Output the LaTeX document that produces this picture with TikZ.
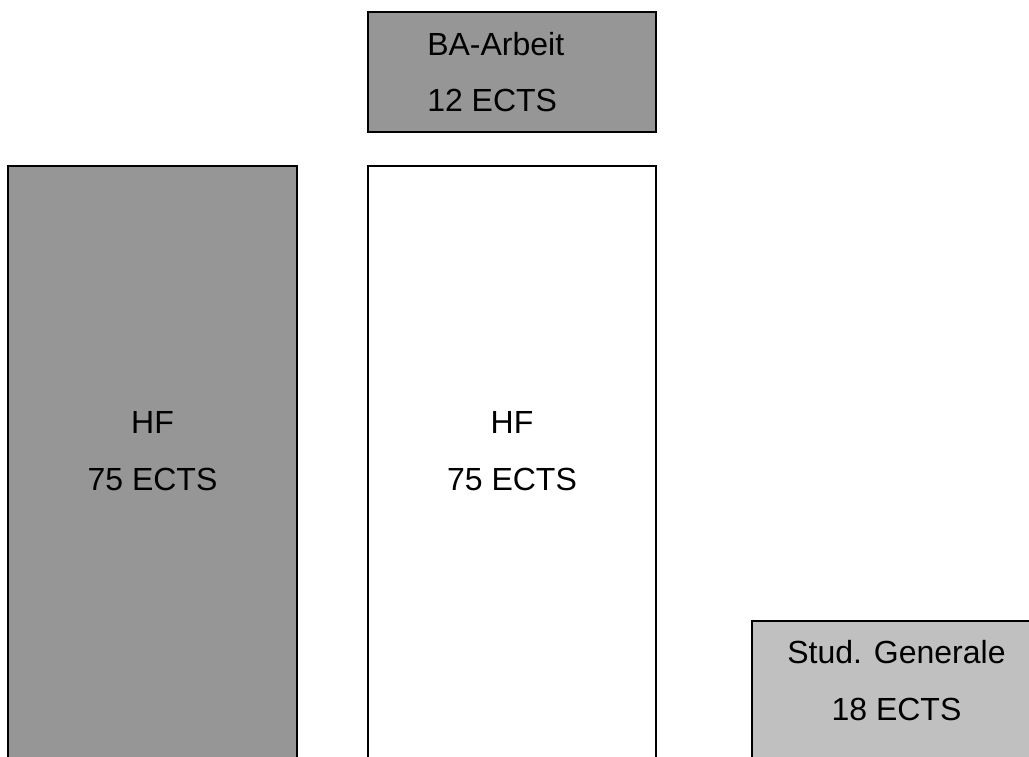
\documentclass[tikz,border=0pt]{standalone}
\usepackage{fontspec}
\setmainfont{Liberation Sans}
\usepackage{xcolor}
\definecolor{darkbox}{RGB}{150,150,150}
\definecolor{lightbox}{RGB}{192,192,192}
\tikzset{
  box/.style={draw=black,line width=1.1pt},
  lbl/.style={inner sep=0pt,font=\fontsize{24}{29}\selectfont}
}

\begin{document}
\begin{tikzpicture}[x=0.75pt,y=-0.75pt]
\useasboundingbox (0,0) rectangle (1029,757);
\clip (0,0) rectangle (1029,757);

\draw[box,fill=darkbox] (368,12) rectangle (656,132);
\draw[box,fill=darkbox] (8,166) rectangle (297,790);
\draw[box,fill=white] (368,166) rectangle (656,790);
\draw[box,fill=lightbox] (752,621) rectangle (1041,790);

\node[lbl,anchor=base west] (ba1) at (427,55) {BA-Arbeit};
\node[lbl,anchor=base west] (ba2) at (427,111) {12 ECTS};

\node[lbl,anchor=base] (hfl1) at (152.5,433) {HF};
\node[lbl,anchor=base] (hfl2) at (152.5,490) {75 ECTS};

\node[lbl,anchor=base] (hfm1) at (512,433) {HF};
\node[lbl,anchor=base] (hfm2) at (512,490) {75 ECTS};

\node[lbl,anchor=base] (sg1) at (896.5,663) {Stud. Generale};
\node[lbl,anchor=base] (sg2) at (896.5,720) {18 ECTS};
\end{tikzpicture}
\end{document}
